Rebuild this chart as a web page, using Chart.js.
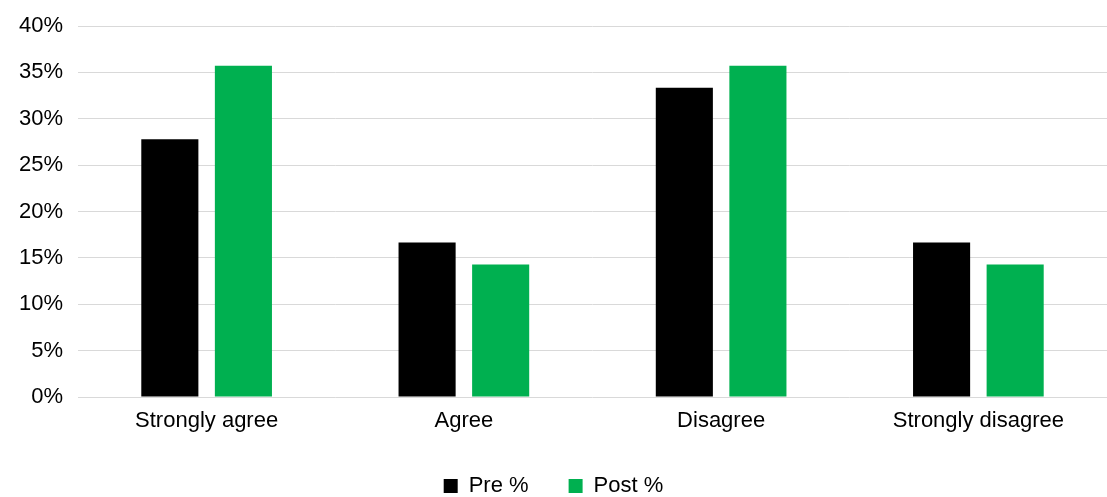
<!DOCTYPE html>
<html>
<head>
<meta charset="utf-8">
<script src="https://cdn.jsdelivr.net/npm/chart.js@4/dist/chart.umd.min.js"></script>
<style>
  html, body { margin: 0; padding: 0; background: #ffffff; }
  #wrap { width: 1107px; height: 497px; }
</style>
</head>
<body>
<div id="wrap"><canvas id="c" width="1107" height="497"></canvas></div>
<script>
const categories = ['Strongly agree', 'Agree', 'Disagree', 'Strongly disagree'];
const preValues = [27.78, 16.67, 33.33, 16.67];
const postValues = [35.71, 14.29, 35.71, 14.29];
const yTicks = [0, 5, 10, 15, 20, 25, 30, 35, 40];

const FONT = "'Liberation Sans', Arial, sans-serif";

new Chart(document.getElementById('c'), {
  type: 'bar',
  data: {
    labels: categories,
    datasets: [
      { label: 'Pre %', data: preValues, backgroundColor: '#000000', borderColor: '#000000', borderWidth: 0 },
      { label: 'Post %', data: postValues, backgroundColor: '#00B050', borderColor: '#00B050', borderWidth: 0 }
    ]
  },
  options: {
    responsive: false,
    animation: false,
    categoryPercentage: 0.572,
    barPercentage: 0.776,
    layout: { padding: { top: 0, right: 0, left: 0, bottom: -10 } },
    plugins: {
      tooltip: { enabled: false },
      legend: {
        position: 'bottom',
        labels: {
          font: { family: FONT, size: 22 },
          color: '#000000',
          boxWidth: 14,
          boxHeight: 14,
          padding: 40
        }
      }
    },
    scales: {
      x: {
        grid: { display: false, drawTicks: false },
        border: { display: false },
        ticks: { font: { family: FONT, size: 22 }, color: '#000000', padding: 11, maxRotation: 0 },
        afterFit: (s) => { s.height = 38; }
      },
      y: {
        min: 0,
        max: 40,
        afterBuildTicks: (s) => { s.ticks = yTicks.map(v => ({ value: v })); },
        ticks: {
          font: { family: FONT, size: 22, lineHeight: 1.0 },
          color: '#000000',
          padding: 15,
          callback: (v) => v + '%'
        },
        grid: { color: '#d9d9d9', lineWidth: 1, drawTicks: false },
        border: { display: false },
        afterFit: (s) => { s.width = 78; }
      }
    }
  }
});
</script>
</body>
</html>
